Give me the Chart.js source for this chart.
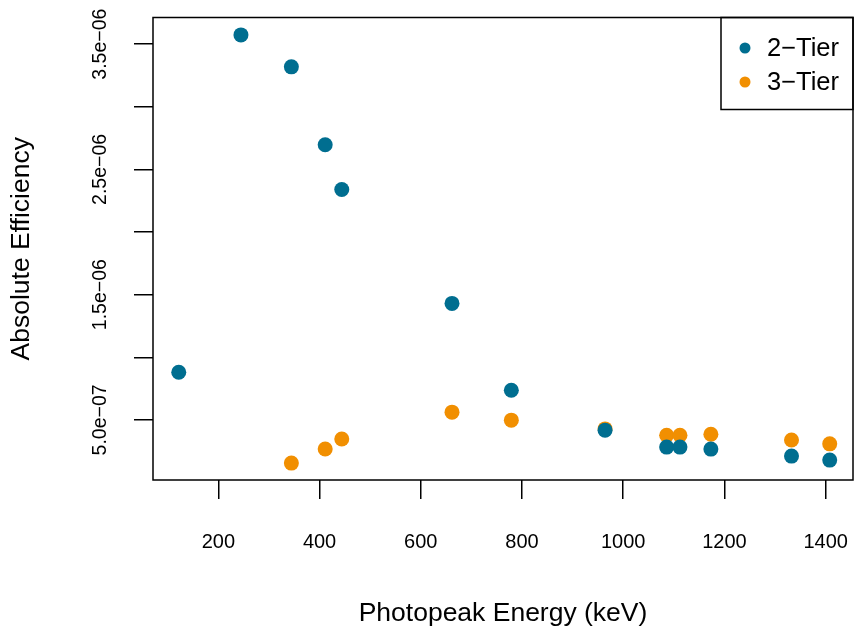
<!DOCTYPE html>
<html>
<head>
<meta charset="utf-8">
<script src="https://cdn.jsdelivr.net/npm/chart.js@4.4.1/dist/chart.umd.min.js"></script>
<style>
  html, body { margin: 0; padding: 0; background: #fff; }
  #wrap { width: 854px; height: 637px; }
</style>
</head>
<body>
<div id="wrap"><canvas id="main-graph" width="854" height="637"></canvas></div>
<script>
// data
const energies2Tier = [121.8, 244.7, 344.3, 411.1, 443.9, 661.7, 778.9, 964.1, 1085.8, 1112.1, 1173.2, 1332.5, 1408.0]
const efficiency2Tier = [0.880e-6, 3.574e-6, 3.319e-6, 2.697e-6, 2.339e-6, 1.430e-6, 0.737e-6, 0.418e-6, 0.283e-6, 0.283e-6, 0.267e-6, 0.211e-6, 0.179e-6]

const energies3Tier = [344.3, 411.1, 443.9, 661.7, 778.9, 964.1, 1085.8, 1112.1, 1173.2, 1332.5, 1408.0]
const efficiency3Tier = [0.155e-6, 0.268e-6, 0.347e-6, 0.562e-6, 0.498e-6, 0.428e-6, 0.378e-6, 0.378e-6, 0.386e-6, 0.340e-6, 0.309e-6]

const seriesLabels = ["2\u2212Tier", "3\u2212Tier"]
const seriesColors = ["#006E90", "#F18F01"]

// axes
const xTickValues = [200, 400, 600, 800, 1000, 1200, 1400]
const yTickValues = [0.5e-6, 1.0e-6, 1.5e-6, 2.0e-6, 2.5e-6, 3.0e-6, 3.5e-6]
const yTickLabels = ["5.0e\u221207", "", "1.5e\u221206", "", "2.5e\u221206", "", "3.5e\u221206"]

const FONT = "'Liberation Sans', Arial, Helvetica, sans-serif"

const toPoints = (xs, ys) => xs.map((x, i) => ({ x: x, y: ys[i] }))

// no extra room for overhanging tick labels, the plot box is fixed
const noLabelPadding = scale => {
    scale.paddingLeft = 0
    scale.paddingRight = 0
    scale.paddingTop = 0
    scale.paddingBottom = 0
}

// box round the plot region plus an R style legend in the top right
const boxAndLegend = {
    id: "boxAndLegend",
    afterDraw(chart) {
        const ctx = chart.ctx
        const a = chart.chartArea
        ctx.save()
        ctx.strokeStyle = "#000"
        ctx.lineWidth = 1.5
        ctx.strokeRect(a.left, a.top, a.right - a.left, a.bottom - a.top)

        // legend
        const lx = 721, ly = a.top, lw = a.right - 721, lh = 92
        ctx.strokeRect(lx, ly, lw, lh)
        ctx.font = "25.5px " + FONT
        ctx.textBaseline = "middle"
        ctx.textAlign = "left"
        chart.data.datasets.forEach((ds, i) => {
            const cy = ly + 30.5 + i * 34
            ctx.fillStyle = ds.backgroundColor
            ctx.beginPath()
            ctx.arc(745, cy, 5.5, 0, Math.PI * 2)
            ctx.fill()
            ctx.fillStyle = "#000"
            ctx.fillText(ds.label, 767, cy + 1)
        })
        ctx.restore()
    }
}

const MainGraphCTX = document.getElementById("main-graph").getContext("2d")

const MainGraph = new Chart(MainGraphCTX, {
    type: "scatter",
    data: {
        datasets: [
            {
                label: seriesLabels[0],
                data: toPoints(energies2Tier, efficiency2Tier),
                backgroundColor: seriesColors[0],
                borderWidth: 0,
                pointRadius: 7.5
            },
            {
                label: seriesLabels[1],
                data: toPoints(energies3Tier, efficiency3Tier),
                backgroundColor: seriesColors[1],
                borderWidth: 0,
                pointRadius: 7.5
            }
        ]
    },
    options: {
        responsive: false,
        animation: false,
        devicePixelRatio: 1,
        layout: { autoPadding: false, padding: { top: 17.5, right: 1, left: 0, bottom: 0 } },
        plugins: {
            legend: { display: false },
            tooltip: { enabled: false }
        },
        scales: {
            x: {
                type: "linear",
                min: 70.9,
                max: 1454,
                afterFit: scale => { scale.height = 157; noLabelPadding(scale) },
                afterBuildTicks: scale => { scale.ticks = xTickValues.map(v => ({ value: v })) },
                border: { display: false },
                grid: {
                    drawOnChartArea: false,
                    drawTicks: true,
                    tickLength: 19,
                    color: "#000",
                    lineWidth: 1.5
                },
                ticks: {
                    color: "#000",
                    padding: 31,
                    maxRotation: 0,
                    font: { family: FONT, size: 20 },
                    callback: v => String(v)
                },
                title: {
                    display: true,
                    text: "Photopeak Energy (keV)",
                    color: "#000",
                    font: { family: FONT, size: 26.5 },
                    padding: { top: 0, bottom: 7 }
                }
            },
            y: {
                type: "linear",
                min: 0.0202e-6,
                max: 3.7128e-6,
                afterFit: scale => { scale.width = 153; noLabelPadding(scale) },
                afterBuildTicks: scale => { scale.ticks = yTickValues.map(v => ({ value: v })) },
                border: { display: false },
                grid: {
                    drawOnChartArea: false,
                    drawTicks: true,
                    tickLength: 19,
                    color: "#000",
                    lineWidth: 1.5
                },
                ticks: {
                    color: "#000",
                    padding: -2.5,
                    minRotation: 90,
                    maxRotation: 90,
                    crossAlign: "center",
                    font: { family: FONT, size: 19.5 },
                    callback: (v, i) => yTickLabels[i]
                },
                title: {
                    display: true,
                    text: "Absolute Efficiency",
                    color: "#000",
                    font: { family: FONT, size: 26.5 },
                    padding: { top: 6, bottom: 0 }
                }
            }
        }
    },
    plugins: [boxAndLegend]
})
</script>
</body>
</html>
